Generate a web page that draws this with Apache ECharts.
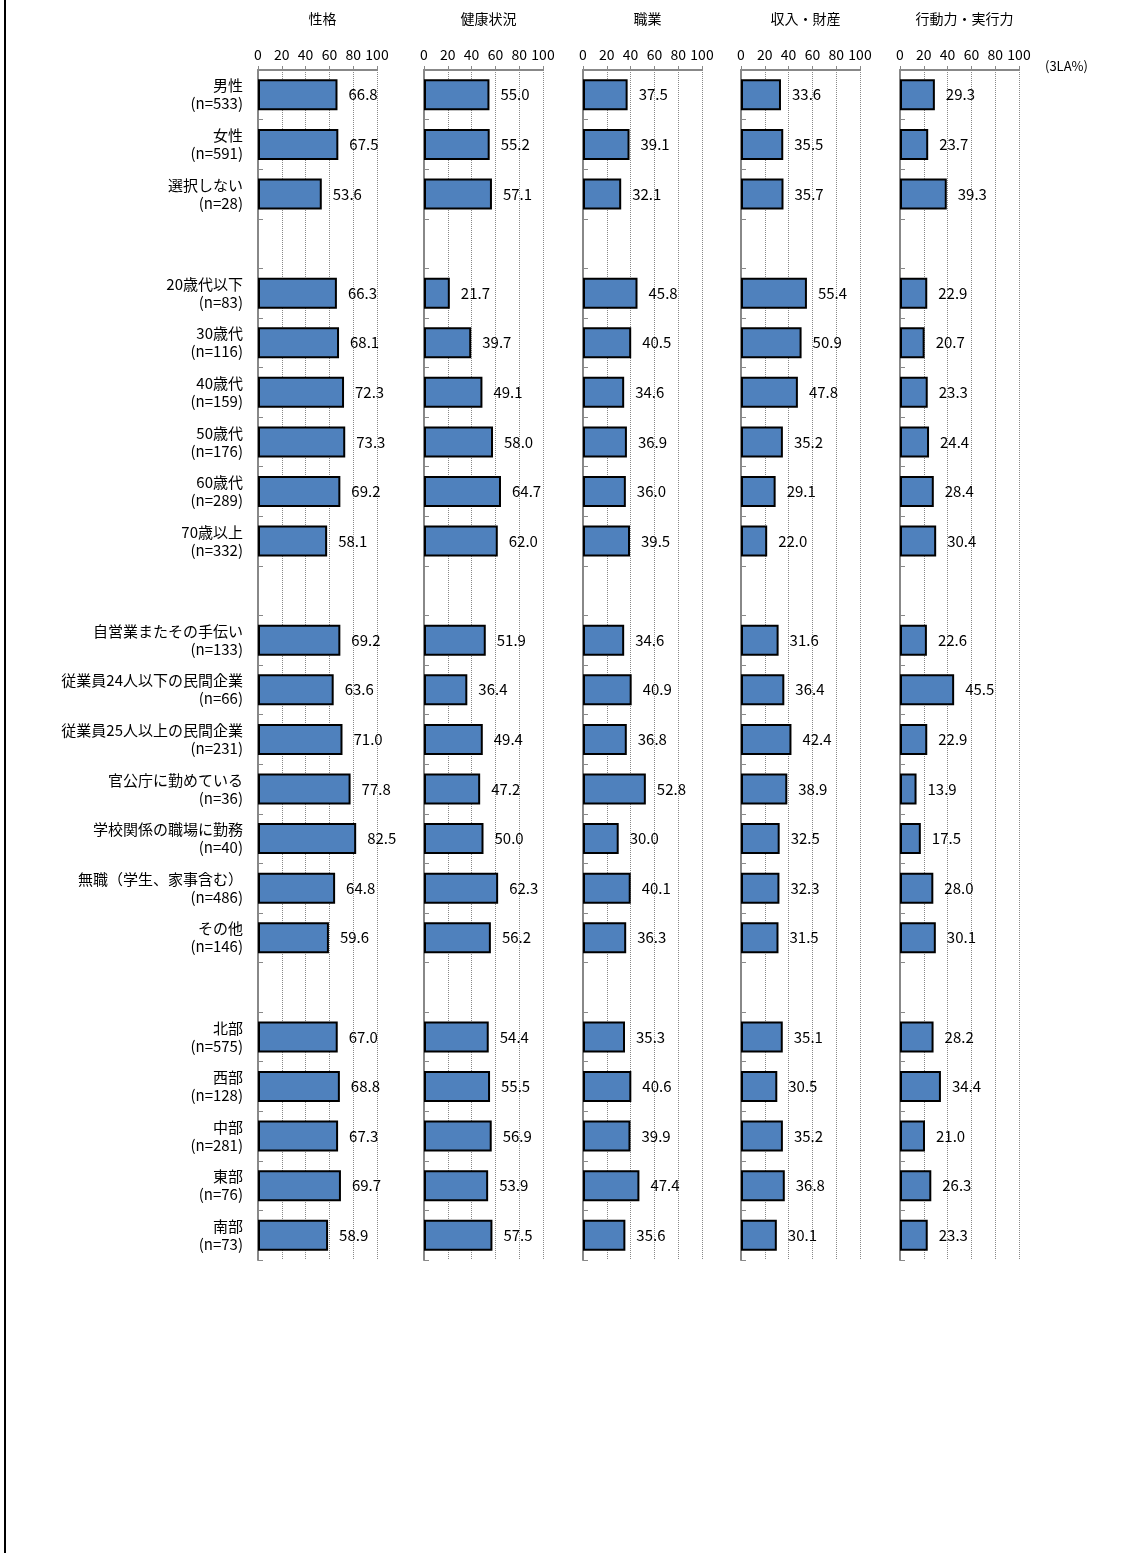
<!DOCTYPE html>
<html>
<head>
<meta charset="utf-8">
<script src="https://cdn.jsdelivr.net/npm/echarts@6/dist/echarts.min.js"></script>
<style>
  html, body { margin: 0; padding: 0; background: #fff; }
  #chart { width: 1137px; height: 1553px; }
</style>
</head>
<body>
<div id="chart"></div>
<script>
// categories ('' = spacer row between groups)
const categories = [
  '男性\n(n=533)', '女性\n(n=591)', '選択しない\n(n=28)', '',
  '20歳代以下\n(n=83)', '30歳代\n(n=116)', '40歳代\n(n=159)', '50歳代\n(n=176)', '60歳代\n(n=289)', '70歳以上\n(n=332)', '',
  '自営業またその手伝い\n(n=133)', '従業員24人以下の民間企業\n(n=66)', '従業員25人以上の民間企業\n(n=231)',
  '官公庁に勤めている\n(n=36)', '学校関係の職場に勤務\n(n=40)', '無職（学生、家事含む）\n(n=486)', 'その他\n(n=146)', '',
  '北部\n(n=575)', '西部\n(n=128)', '中部\n(n=281)', '東部\n(n=76)', '南部\n(n=73)'
];

const panelTitles = ['性格', '健康状況', '職業', '収入・財産', '行動力・実行力'];

const seikaku = [66.8, 67.5, 53.6, null, 66.3, 68.1, 72.3, 73.3, 69.2, 58.1, null,
  69.2, 63.6, 71.0, 77.8, 82.5, 64.8, 59.6, null, 67.0, 68.8, 67.3, 69.7, 58.9];
const kenko = [55.0, 55.2, 57.1, null, 21.7, 39.7, 49.1, 58.0, 64.7, 62.0, null,
  51.9, 36.4, 49.4, 47.2, 50.0, 62.3, 56.2, null, 54.4, 55.5, 56.9, 53.9, 57.5];
const shokugyo = [37.5, 39.1, 32.1, null, 45.8, 40.5, 34.6, 36.9, 36.0, 39.5, null,
  34.6, 40.9, 36.8, 52.8, 30.0, 40.1, 36.3, null, 35.3, 40.6, 39.9, 47.4, 35.6];
const shunyu = [33.6, 35.5, 35.7, null, 55.4, 50.9, 47.8, 35.2, 29.1, 22.0, null,
  31.6, 36.4, 42.4, 38.9, 32.5, 32.3, 31.5, null, 35.1, 30.5, 35.2, 36.8, 30.1];
const kodo = [29.3, 23.7, 39.3, null, 22.9, 20.7, 23.3, 24.4, 28.4, 30.4, null,
  22.6, 45.5, 22.9, 13.9, 17.5, 28.0, 30.1, null, 28.2, 34.4, 21.0, 26.3, 23.3];

const seriesData = [seikaku, kenko, shokugyo, shunyu, kodo];
const xTicks = [0, 20, 40, 60, 80, 100];

const FONT = '"Noto Sans CJK JP", "Noto Sans", sans-serif';
const gridLefts = [258, 424, 583, 741, 900];
const gridWidth = 119;
const gridTop = 70;
const gridHeight = 1190;

const chart = echarts.init(document.getElementById('chart'));

const grids = [], xAxes = [], yAxes = [], series = [], titles = [];
seriesData.forEach((vals, i) => {
  grids.push({ left: gridLefts[i], top: gridTop, width: gridWidth, height: gridHeight });
  xAxes.push({
    gridIndex: i,
    type: 'value',
    position: 'top',
    min: xTicks[0],
    max: xTicks[xTicks.length - 1],
    interval: 20,
    axisLine: { show: true, lineStyle: { color: '#888', width: 2 } },
    axisTick: { show: true, length: 4, lineStyle: { color: '#888' } },
    axisLabel: { fontSize: 14, color: '#000', fontFamily: FONT, margin: 8 },
    splitLine: { show: true, lineStyle: { color: '#888', type: 'dotted', width: 1 } }
  });
  yAxes.push({
    gridIndex: i,
    type: 'category',
    inverse: true,
    data: categories,
    axisLine: { show: true, lineStyle: { color: '#888', width: 2 } },
    axisTick: { show: true, inside: true, length: 5, lineStyle: { color: '#888' } },
    axisLabel: i === 0 ? {
      show: true, fontSize: 15, color: '#000', fontFamily: FONT,
      lineHeight: 18, align: 'right', margin: 15
    } : { show: false }
  });
  series.push({
    type: 'bar',
    xAxisIndex: i,
    yAxisIndex: i,
    data: vals,
    barWidth: 31,
    itemStyle: { color: '#4F81BD', borderColor: '#000', borderWidth: 2 },
    label: {
      show: true,
      position: 'right',
      distance: 11,
      fontSize: 15,
      color: '#000',
      fontFamily: FONT,
      formatter: p => p.value == null ? '' : p.value.toFixed(1)
    }
  });
  titles.push({
    text: panelTitles[i],
    left: gridLefts[i] + gridWidth / 2,
    top: 7,
    textAlign: 'center',
    textStyle: { fontSize: 14, fontWeight: 'normal', color: '#000', fontFamily: FONT }
  });
});

chart.setOption({
  animation: false,
  title: titles,
  grid: grids,
  xAxis: xAxes,
  yAxis: yAxes,
  series: series,
  graphic: [
    { type: 'line', shape: { x1: 5, y1: 0, x2: 5, y2: 1553 }, style: { stroke: '#000', lineWidth: 2 } },
    { type: 'text', left: 1045, top: 60, style: { text: '(3LA%)', fontSize: 13, fill: '#000', fontFamily: FONT } }
  ]
});
</script>
</body>
</html>
